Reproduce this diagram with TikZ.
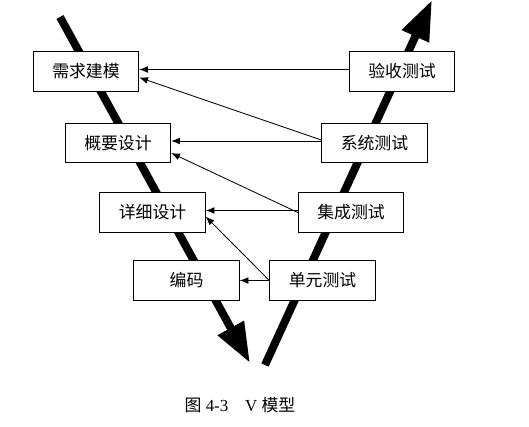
\documentclass[tikz,border=0pt]{standalone}
\usepackage{fontspec}
\setmainfont{Liberation Serif}
\newfontfamily\cjk{Noto Sans CJK SC}
\usetikzlibrary{arrows.meta,calc}

\begin{document}
\begin{tikzpicture}[x=0.025cm,y=-0.025cm,
   box/.style={draw,fill=white,line width=0.8pt,minimum width=2.63cm,minimum height=0.98cm,inner sep=0pt,font=\cjk\fontsize{12}{14}\selectfont},
   vline/.style={line width=0.2cm,-{Triangle[length=1cm,width=0.7cm]}},
   link/.style={line width=0.6pt,-{Latex[length=2.2mm,width=1.7mm]}}]
   \useasboundingbox (0,0) rectangle (529,427);
   \coordinate (ltop) at (60,17);
   \coordinate (lbot) at (250,363);
   \coordinate (rbot) at (265,365);
   \coordinate (rtop) at (432,0);
   \draw[vline] (ltop) -- (lbot);
   \draw[vline] (rbot) -- (rtop);

   \node[box] (xqjm) at (86,71.5) {需求建模};
   \node[box] (ysc) at (402,71.5) {验收测试};
   \node[box] (gysj) at (118,143) {概要设计};
   \node[box] (xtcs) at (374.5,143) {系统测试};
   \node[box] (xxsj) at (152.5,212.5) {详细设计};
   \node[box] (jccs) at (351,212.5) {集成测试};
   \node[box] (bm) at (186.5,280.5) {编码};
   \node[box] (dycs) at (322.5,280.5) {单元测试};

   \draw[link] ($(ysc.west)+(0,-2)$) -- ($(xqjm.east)+(0,-2)$);
   \draw[link] ($(xtcs.west)+(0,-3)$) -- ($(xqjm.east)+(0,6)$);
   \draw[link] ($(xtcs.west)+(0,-2)$) -- ($(gysj.east)+(0,-2)$);
   \draw[link] (jccs.west) -- ($(gysj.east)+(0,10)$);
   \draw[link] ($(jccs.west)+(0,-2)$) -- ($(xxsj.east)+(0,-2)$);
   \draw[link] (dycs.west) -- ($(xxsj.east)+(0,4)$);
   \draw[link] (dycs.west) -- (bm.east);

   \node[font=\fontsize{12}{14}\selectfont] (cap) at (240,405) {{\cjk 图} 4-3\quad V {\cjk 模型}};
\end{tikzpicture}
\end{document}
